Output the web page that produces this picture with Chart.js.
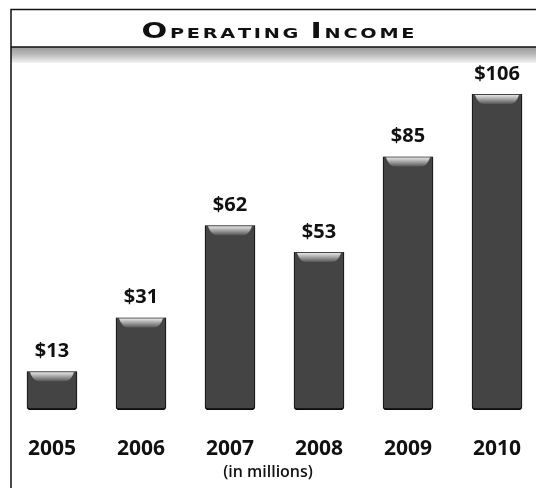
<!DOCTYPE html>
<html>
<head>
<meta charset="utf-8">
<script src="https://cdn.jsdelivr.net/npm/chart.js@4"></script>
<style>
  html, body { margin: 0; padding: 0; background: #fff; }
  #wrap { width: 536px; height: 488px; position: relative; }
</style>
</head>
<body>
<div id="wrap"><canvas id="incomeChart" width="536" height="488"></canvas></div>
<script>
// data
const years = ['2005', '2006', '2007', '2008', '2009', '2010'];
const income = [13, 31, 62, 53, 85, 106];
const unitNote = '(in millions)';
const titleParts = [['O', 'big'], ['PERATING ', 'small'], ['I', 'big'], ['NCOME', 'small']];

// frame, header and gray band
const framePlugin = {
  id: 'frame',
  beforeDraw(chart) {
    const c = chart.ctx;
    c.save();
    c.fillStyle = '#fff';
    c.fillRect(0, 0, chart.width, chart.height);
    // gray band under header
    const g = c.createLinearGradient(0, 47, 0, 63);
    g.addColorStop(0, '#9a9a9a');
    g.addColorStop(0.45, '#b8b8b8');
    g.addColorStop(1, '#f4f4f4');
    c.fillStyle = g;
    c.fillRect(11, 47, chart.width - 11, 16);
    c.strokeStyle = '#111';
    c.lineWidth = 1.5;
    c.beginPath();
    c.moveTo(11, 488); c.lineTo(11, 9.5); c.lineTo(536, 9.5);
    c.moveTo(11, 47); c.lineTo(536, 47);
    c.stroke();

    // small caps title, stretched wide
    const fam = '"DejaVu Sans", sans-serif';
    const sizes = { big: 22, small: 14 };
    const spacing = 2;
    let total = 0;
    titleParts.forEach(([t, s]) => {
      c.font = 'bold ' + sizes[s] + 'px ' + fam;
      for (const ch of t) total += c.measureText(ch).width + spacing;
    });
    total -= spacing;
    const want = 273;
    const sx = want / total;
    c.translate(278 - want / 2, 38);
    c.scale(sx, 1);
    let x = 0;
    c.fillStyle = '#111';
    c.textBaseline = 'alphabetic';
    titleParts.forEach(([t, s]) => {
      c.font = 'bold ' + sizes[s] + 'px ' + fam;
      for (const ch of t) {
        c.fillText(ch, x, 0);
        x += c.measureText(ch).width + spacing;
      }
    });
    c.restore();
  }
};

// bevel highlight and value labels
const barLabels = {
  id: 'barLabels',
  afterDatasetsDraw(chart) {
    const c = chart.ctx;
    const meta = chart.getDatasetMeta(0);
    c.save();
    meta.data.forEach((bar, i) => {
      const half = bar.width / 2;
      const top = bar.y;
      const hg = c.createLinearGradient(0, top, 0, top + 10);
      hg.addColorStop(0, 'rgba(255,255,255,0.95)');
      hg.addColorStop(1, 'rgba(255,255,255,0.1)');
      c.fillStyle = hg;
      c.beginPath();
      c.moveTo(bar.x - half + 3, top + 1);
      c.lineTo(bar.x + half - 3, top + 1);
      c.quadraticCurveTo(bar.x + half - 6, top + 10, bar.x + half - 12, top + 10);
      c.lineTo(bar.x - half + 12, top + 10);
      c.quadraticCurveTo(bar.x - half + 6, top + 10, bar.x - half + 3, top + 1);
      c.fill();

      c.fillStyle = '#111';
      c.font = 'bold 20px "Open Sans", sans-serif';
      c.textAlign = 'center';
      c.textBaseline = 'middle';
      c.fillText('$' + income[i], bar.x, top - 20);
    });
    c.restore();
  }
};

const ctx = document.getElementById('incomeChart');
const chartCtx = ctx.getContext('2d');

function barFill(context) {
  const el = context.element;
  if (!el || el.x === undefined) return '#444';
  const l = el.x - 25;
  const g = chartCtx.createLinearGradient(l, 0, l + 50, 0);
  g.addColorStop(0, '#080808');
  g.addColorStop(0.15, '#2e2e2e');
  g.addColorStop(0.5, '#484848');
  g.addColorStop(0.85, '#2e2e2e');
  g.addColorStop(1, '#080808');
  return g;
}

new Chart(ctx, {
  type: 'bar',
  data: {
    labels: years,
    datasets: [{
      data: income,
      backgroundColor: barFill,
      borderColor: '#0a0a0a',
      borderWidth: { top: 0, left: 1, right: 1, bottom: 2 },
      borderRadius: { bottomLeft: 4, bottomRight: 4 },
      borderSkipped: false,
      barThickness: 50
    }]
  },
  plugins: [framePlugin, barLabels],
  options: {
    responsive: false,
    animation: false,
    events: [],
    layout: { padding: { top: 60, left: 0, right: 0, bottom: 0 } },
    plugins: { legend: { display: false }, tooltip: { enabled: false }, title: { display: false } },
    scales: {
      x: {
        type: 'linear',
        offset: false,
        min: 2004.416,
        max: 2010.438,
        grid: { display: false, drawTicks: false },
        border: { display: false },
        ticks: {
          stepSize: 1,
          includeBounds: false,
          padding: 0,
          color: '#111',
          // tall line height pushes the year labels down without side padding
          font: { family: '"Open Sans", sans-serif', size: 21, weight: 'bold', lineHeight: 78 / 21 },
          callback: v => String(v)
        },
        title: {
          display: true,
          text: unitNote,
          color: '#111',
          font: { family: '"Open Sans", sans-serif', size: 16, weight: '600' },
          padding: { top: -25.6, bottom: 6.4 }
        }
      },
      y: { display: false, min: 0, max: 117.4 }
    }
  }
});
</script>
</body>
</html>
